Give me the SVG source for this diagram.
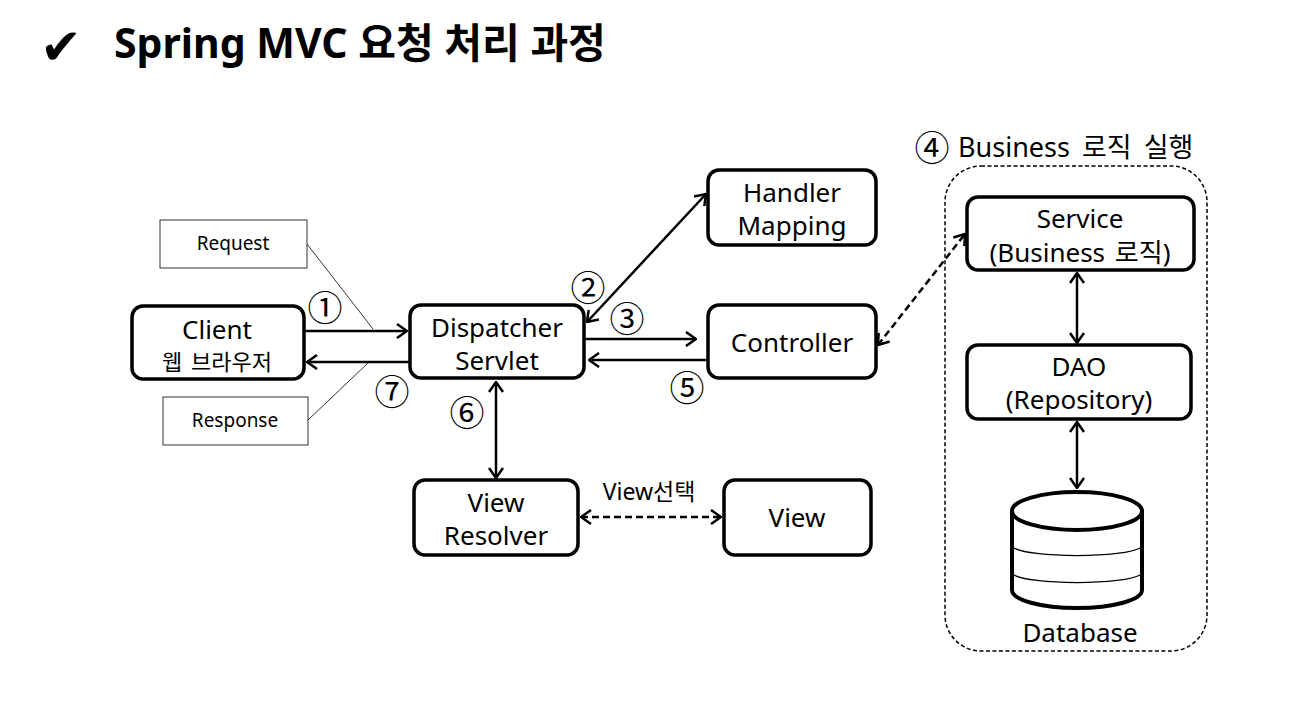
<svg xmlns="http://www.w3.org/2000/svg" width="1301" height="703" viewBox="0 0 1301 703">
<style>
text{font-family:"Noto Sans","Noto Sans CJK KR",sans-serif;fill:#000}
.node{fill:#fff;stroke:#000;stroke-width:3.5}
.lbl{font-size:26px;text-anchor:middle}
.note{fill:#fff;stroke:#333;stroke-width:1}
.small{font-size:19px;text-anchor:middle}
.num{font-size:35px;text-anchor:middle;dominant-baseline:central;font-family:"Noto Sans CJK KR","DejaVu Sans",sans-serif}
.edge{fill:none;stroke:#000;stroke-width:2.5}
.dash{stroke-dasharray:7 4}
.thin{fill:none;stroke:#333;stroke-width:1}
</style>
<defs>
<marker id="arr" viewBox="0 0 12 16" refX="11" refY="8" markerWidth="12" markerHeight="16" markerUnits="userSpaceOnUse" orient="auto-start-reverse">
<path d="M1,1 L11,8 L1,15" fill="none" stroke="#000" stroke-width="2.5"/>
</marker>
</defs>
<rect width="1301" height="703" fill="#fff"/>
<g id="title">
<text x="40" y="64" style="font-family:'DejaVu Sans',sans-serif;font-size:50px">✔</text>
<text x="114" y="58" style="font-size:41px;font-weight:bold">Spring MVC 요청 처리 과정</text>
</g>
<g id="connectors">
<line class="thin" x1="307" y1="244" x2="373" y2="329"/>
<line class="thin" x1="308" y1="420" x2="369" y2="362"/>
<line class="edge" x1="305" y1="331" x2="407" y2="331" marker-end="url(#arr)"/>
<line class="edge" x1="410" y1="362" x2="307" y2="362" marker-end="url(#arr)"/>
<line class="edge" x1="587" y1="322" x2="706" y2="194" marker-start="url(#arr)" marker-end="url(#arr)"/>
<line class="edge" x1="585" y1="339" x2="696" y2="339" marker-end="url(#arr)"/>
<line class="edge" x1="708" y1="360" x2="589" y2="360" marker-end="url(#arr)"/>
<line class="edge dash" x1="878" y1="345" x2="965" y2="234" marker-start="url(#arr)" marker-end="url(#arr)"/>
<line class="edge" x1="496" y1="382" x2="496" y2="478" marker-start="url(#arr)" marker-end="url(#arr)"/>
<line class="edge dash" x1="581" y1="517" x2="721" y2="517" marker-start="url(#arr)" marker-end="url(#arr)"/>
<line class="edge" x1="1077" y1="273" x2="1077" y2="343" marker-start="url(#arr)" marker-end="url(#arr)"/>
<line class="edge" x1="1077" y1="422" x2="1077" y2="488" marker-start="url(#arr)" marker-end="url(#arr)"/>
<text class="num" x="325" y="305">①</text>
<text class="num" x="588" y="285">②</text>
<text class="num" x="627" y="316">③</text>
<text class="num" x="687" y="385">⑤</text>
<text class="num" x="467" y="410">⑥</text>
<text class="num" x="392" y="389">⑦</text>
<text x="649" y="500" style="font-size:23px;text-anchor:middle">View선택</text>
</g>
<g id="request">
<rect class="note" x="160" y="220" width="147" height="48"/>
<text class="small" x="233" y="250">Request</text>
</g>
<g id="response">
<rect class="note" x="163" y="397" width="145" height="48"/>
<text class="small" x="235" y="427">Response</text>
</g>
<g id="client">
<rect class="node" x="132" y="306" width="172" height="73" rx="11"/>
<text class="lbl" x="217" y="339">Client</text>
<text x="217" y="370" style="font-size:22px;text-anchor:middle;word-spacing:3px">웹 브라우저</text>
</g>
<g id="dispatcher">
<rect class="node" x="410" y="305" width="174" height="73" rx="11"/>
<text class="lbl" x="497" y="337">Dispatcher</text>
<text class="lbl" x="497" y="370">Servlet</text>
</g>
<g id="handler">
<rect class="node" x="708" y="170" width="168" height="75" rx="11"/>
<text class="lbl" x="792" y="202">Handler</text>
<text class="lbl" x="792" y="235">Mapping</text>
</g>
<g id="controller">
<rect class="node" x="708" y="305" width="168" height="73" rx="11"/>
<text class="lbl" x="792" y="352">Controller</text>
</g>
<g id="viewresolver">
<rect class="node" x="414" y="480" width="164" height="75" rx="11"/>
<text class="lbl" x="496" y="512">View</text>
<text class="lbl" x="496" y="545">Resolver</text>
</g>
<g id="view">
<rect class="node" x="724" y="480" width="147" height="75" rx="11"/>
<text class="lbl" x="797" y="527">View</text>
</g>
<g id="business">
<rect x="945" y="166" width="262" height="485" rx="36" fill="none" stroke="#000" stroke-width="1.5" stroke-dasharray="4 2.5"/>
<text class="num" x="932" y="145">④</text>
<text x="958" y="157" style="font-size:27px;word-spacing:5px">Business 로직 실행</text>
</g>
<g id="service">
<rect class="node" x="967" y="197" width="227" height="73" rx="11"/>
<text class="lbl" x="1080" y="228">Service</text>
<text class="lbl" x="1080" y="262" style="word-spacing:3px">(Business 로직)</text>
</g>
<g id="dao">
<rect class="node" x="967" y="345" width="224" height="74" rx="11"/>
<text class="lbl" x="1079" y="376">DAO</text>
<text class="lbl" x="1079" y="409">(Repository)</text>
</g>
<g id="database">
<path d="M1012,511 L1012,590 A65,18 0 0 0 1142,590 L1142,511" fill="#fff" stroke="#000" stroke-width="4"/>
<ellipse cx="1077" cy="511" rx="65" ry="19" fill="#fff" stroke="#000" stroke-width="4"/>
<path d="M1014,548 A65,10 0 0 0 1140,548" fill="none" stroke="#000" stroke-width="1.3"/>
<path d="M1014,575 A65,10 0 0 0 1140,575" fill="none" stroke="#000" stroke-width="1.3"/>
<text class="lbl" x="1080" y="642">Database</text>
</g>
</svg>
